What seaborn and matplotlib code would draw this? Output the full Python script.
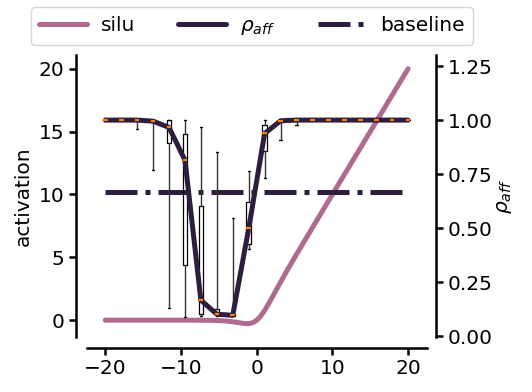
import numpy as np
import pandas as pd
import seaborn as sns
import matplotlib
matplotlib.use('Agg')
import matplotlib.pyplot as plt

# silu curve, points
silu_x = [-20, -15, -10, -8, -6, -5, -4, -3, -2.5, -2, -1.5, -1.25, -1, -0.75, -0.5, -0.25,
          0, 0.25, 0.5, 0.75, 1, 1.5, 2, 2.5, 3, 4, 5, 6, 8, 10, 15, 20]
silu_y = [0, 0, -0.0005, -0.003, -0.015, -0.033, -0.072, -0.142, -0.19, -0.238, -0.274, -0.278,
          -0.269, -0.239, -0.189, -0.109, 0, 0.14, 0.311, 0.51, 0.731, 1.226, 1.762, 2.31,
          2.857, 3.93, 4.97, 5.985, 7.997, 10, 15, 20]

# rho_aff per input value (median and box stats)
rho_x = [-20, -17.89, -15.79, -13.68, -11.58, -9.47, -7.37, -5.26, -3.16, -1.05,
         1.05, 3.16, 5.26, 7.37, 9.47, 11.58, 13.68, 15.79, 17.89, 20]
rho_med = [1.0, 1.0, 1.0, 0.995, 0.966, 0.814, 0.166, 0.101, 0.096, 0.499,
           0.938, 0.997, 1.0, 1.0, 1.0, 1.0, 1.0, 1.0, 1.0, 1.0]
rho_q1 = [1.0, 1.0, 0.995, 0.99, 0.892, 0.33, 0.104, 0.10, 0.094, 0.427,
          0.857, 0.99, 0.997, 1.0, 1.0, 1.0, 1.0, 1.0, 1.0, 1.0]
rho_q3 = [1.0, 1.0, 1.0, 1.0, 1.0, 0.935, 0.60, 0.127, 0.10, 0.623,
          0.977, 1.0, 1.0, 1.0, 1.0, 1.0, 1.0, 1.0, 1.0, 1.0]
rho_lo = [1.0, 1.0, 0.96, 0.77, 0.129, 0.088, 0.093, 0.095, 0.093, 0.403,
          0.732, 0.91, 0.977, 1.0, 1.0, 1.0, 1.0, 1.0, 1.0, 1.0]
rho_hi = [1.0, 1.0, 1.0, 1.0, 1.0, 1.0, 0.969, 0.85, 0.547, 0.764,
          1.0, 1.0, 1.0, 1.0, 1.0, 1.0, 1.0, 1.0, 1.0, 1.0]

baseline_x = [-20, 20]
baseline_y = [0.667, 0.667]

pink = '#b06a92'
dark = '#2d1e3e'
fs = 14.5

sns.set_style('white')
plt.rcParams['font.family'] = ['DejaVu Sans']
plt.rcParams['font.size'] = fs
plt.rcParams['text.color'] = 'black'
plt.rcParams['axes.labelcolor'] = 'black'
plt.rcParams['xtick.color'] = 'black'
plt.rcParams['ytick.color'] = 'black'

fig = plt.figure(figsize=(5.32, 3.92), dpi=100)
ax = fig.add_axes([0.163, 0.140, 0.639, 0.720])
ax2 = ax.twinx()

silu_df = pd.DataFrame({'x': silu_x, 'y': silu_y})
sns.lineplot(data=silu_df, x='x', y='y', ax=ax, color=pink, lw=3.6, legend=False)

# box plots of rho_aff
stats = []
for i in range(len(rho_x)):
    stats.append({'med': rho_med[i], 'q1': rho_q1[i], 'q3': rho_q3[i],
                  'whislo': rho_lo[i], 'whishi': rho_hi[i], 'fliers': []})
ax2.bxp(stats, positions=rho_x, widths=0.6, manage_ticks=False,
        boxprops=dict(color='black', lw=0.9),
        whiskerprops=dict(color='#333333', lw=1.0),
        capprops=dict(color='black', lw=1.0),
        medianprops=dict(color='#ff7f0e', lw=1.6, zorder=5))

rho_df = pd.DataFrame({'x': rho_x, 'y': rho_med})
sns.lineplot(data=rho_df, x='x', y='y', ax=ax2, color=dark, lw=3.6, zorder=4)
base_df = pd.DataFrame({'x': baseline_x, 'y': baseline_y})
sns.lineplot(data=base_df, x='x', y='y', ax=ax2, color=dark, lw=3.6, ls='-.', zorder=1)

ax.set_xlim(-22.45, 22.45)
ax.set_ylim(-1.35, 21.1)
ax2.set_ylim(-0.005, 1.302)
ax.set_xticks([-20, -10, 0, 10, 20])
ax.set_yticks([0, 5, 10, 15, 20])
ax2.set_yticks([0, 0.25, 0.5, 0.75, 1.0, 1.25])
ax2.set_yticklabels(['0.00', '0.25', '0.50', '0.75', '1.00', '1.25'])
ax.set_xlabel('')
ax.set_ylabel('activation', fontsize=fs)
ax2.set_ylabel(r'$\rho_{aff}$', fontsize=fs, labelpad=2)

for a in (ax, ax2):
    a.tick_params(labelsize=fs, length=5, width=1.8, direction='out', pad=3)
    for s in a.spines.values():
        s.set_linewidth(1.8)
        s.set_color('black')
ax.spines['top'].set_visible(False)
ax.spines['right'].set_visible(False)
ax2.spines['top'].set_visible(False)
ax2.spines['left'].set_visible(False)
ax2.spines['bottom'].set_visible(False)
ax.spines['left'].set_position(('outward', 8))
ax.spines['bottom'].set_position(('outward', 8))
ax2.spines['right'].set_position(('outward', 7))
ax.tick_params(axis='both', which='both', left=True, bottom=True)
ax2.tick_params(axis='y', right=True)

handles = [plt.Line2D([], [], color=pink, lw=3.6),
           plt.Line2D([], [], color=dark, lw=3.6),
           plt.Line2D([], [], color=dark, lw=3.6, ls='-.')]
ax2.legend(handles, ['silu', r'$\rho_{aff}$', 'baseline'], loc='lower center',
           bbox_to_anchor=(0.485, 1.015), ncol=3, fontsize=fs, handlelength=2.4,
           columnspacing=2.1, handletextpad=0.7, borderaxespad=0.3, frameon=True)

fig.savefig('out.png', dpi=100)
